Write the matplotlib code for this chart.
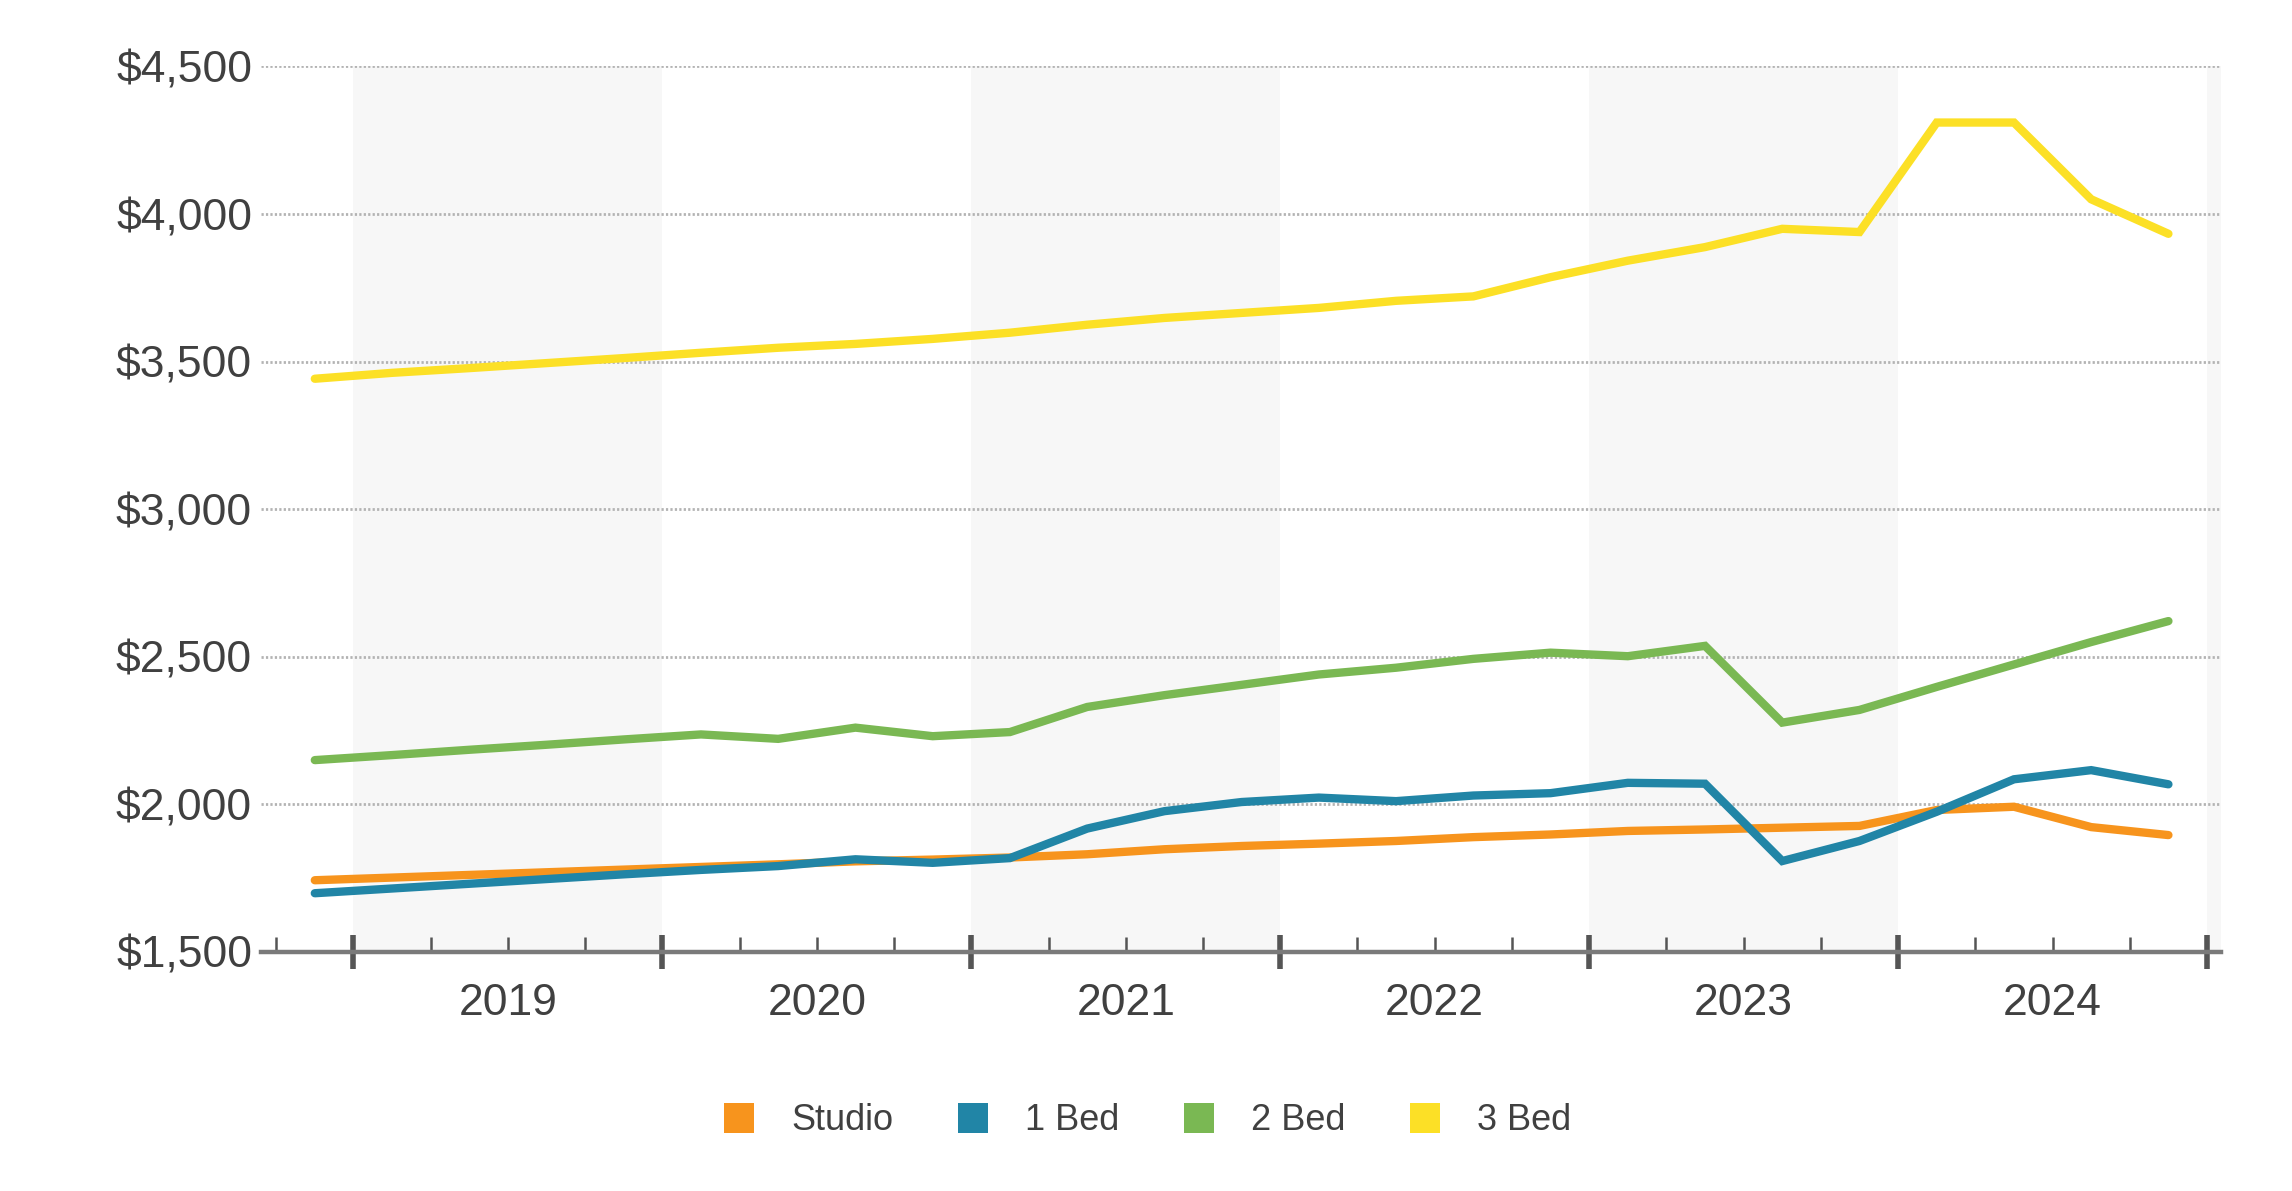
import numpy as np
import matplotlib.pyplot as plt
from matplotlib.lines import Line2D
from matplotlib.ticker import FixedLocator, FuncFormatter

plt.rcParams['font.family'] = ['Liberation Sans', 'DejaVu Sans']

# quarterly readings, first point sits half a quarter before 2019
first_x = 2018.875
step = 0.25

studio = [1743, 1752, 1761, 1770, 1779, 1788, 1797, 1807, 1813, 1820,
          1831, 1848, 1859, 1867, 1876, 1889, 1898, 1910, 1915, 1921,
          1927, 1981, 1992, 1923, 1896]
bed1 = [1699, 1715, 1731, 1747, 1763, 1778, 1791, 1814, 1802, 1818,
        1918, 1977, 2008, 2023, 2011, 2030, 2038, 2073, 2070, 1808,
        1876, 1975, 2085, 2116, 2068]
bed2 = [2150, 2167, 2185, 2202, 2220, 2237, 2222, 2260, 2231, 2245,
        2330, 2370, 2405, 2440, 2463, 2493, 2514, 2502, 2537, 2277,
        2320, 2398, 2474, 2550, 2621]
bed3 = [3442, 3462, 3478, 3495, 3512, 3530, 3547, 3560, 3577, 3598,
        3625, 3648, 3665, 3682, 3706, 3721, 3786, 3842, 3888, 3950,
        3939, 4310, 4310, 4050, 3933]

names = ['Studio', '1 Bed', '2 Bed', '3 Bed']
colors = ['#F7941D', '#2185A6', '#7AB853', '#FCE026']
years = [2019, 2020, 2021, 2022, 2023, 2024, 2025]
yticks = [1500, 2000, 2500, 3000, 3500, 4000, 4500]

x = first_x + step * np.arange(len(studio))

fig = plt.figure(figsize=(22.92, 11.91), dpi=100)
ax = fig.add_axes([0.1139, 0.2007, 0.969 - 0.1139, 0.9442 - 0.2007])

# alternate year bands
for i, yr in enumerate(years):
    if i % 2 == 0:
        ax.axvspan(yr, yr + 1, color='#f7f7f7', lw=0, zorder=0)

for ser, c in zip([studio, bed1, bed2, bed3], colors):
    ax.plot(x, ser, color=c, lw=6.0, solid_capstyle='round',
            solid_joinstyle='miter', zorder=3)

ax.set_xlim(2018.701, 2025.045)
ax.set_ylim(1500, 4500)

ax.set_yticks(yticks)
ax.yaxis.set_major_formatter(FuncFormatter(lambda v, p: '${:,.0f}'.format(v)))
ax.grid(axis='y', color='#b3b3b3', lw=2.0, ls=(0, (0.8, 0.8)), zorder=1)
ax.tick_params(axis='y', length=0, pad=6.5, labelsize=32, labelcolor='#404040')

ax.set_xticks(years)
ax.xaxis.set_major_formatter(FuncFormatter(lambda v, p: ''))
minor = [yr + q for yr in range(2018, 2025) for q in (0.25, 0.5, 0.75)
         if 2018.7 < yr + q < 2025]
ax.xaxis.set_minor_locator(FixedLocator(minor))
ax.xaxis.set_minor_formatter(FuncFormatter(
    lambda v, p: str(int(v)) if abs(v % 1 - 0.5) < 1e-6 else ''))
ax.tick_params(axis='x', which='major', direction='inout', length=25,
               width=4, color='#555555')
ax.tick_params(axis='x', which='minor', direction='in', length=11,
               width=1.8, color='#555555', pad=22, labelsize=32,
               labelcolor='#404040')

for s in ['top', 'right', 'left']:
    ax.spines[s].set_visible(False)
ax.spines['bottom'].set_color('#7a7a7a')
ax.spines['bottom'].set_linewidth(3.2)
ax.spines['bottom'].set_zorder(4)

handles = [Line2D([], [], ls='none', marker='s', markersize=21.5,
                  markerfacecolor=c, markeredgewidth=0) for c in colors]
fig.legend(handles, names, loc='center', bbox_to_anchor=(0.5, 0.059),
           ncol=4, frameon=False, fontsize=26, handlelength=1.0,
           handletextpad=0.95, columnspacing=1.7, labelcolor='#404040')

fig.savefig('out.png', dpi=100, facecolor='white')
